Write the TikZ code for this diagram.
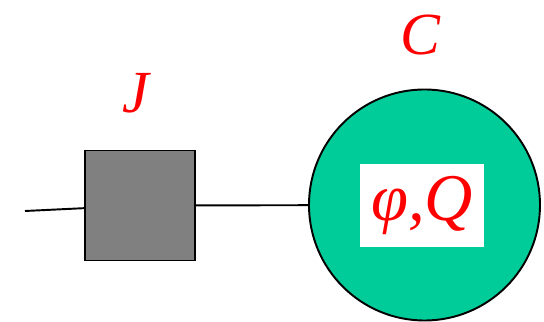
\documentclass[tikz,border=0pt]{standalone}
\usepackage{fontspec}
\setmainfont{Liberation Serif}
\definecolor{sea}{RGB}{0,204,153}

\begin{document}
\begin{tikzpicture}[
        block/.style={rectangle, draw, line width=1.1pt, fill=gray, minimum size=2.2cm, inner sep=0pt},
        ring/.style={circle, draw, line width=1.1pt, fill=sea, minimum size=4.62cm, inner sep=0pt},
        tag/.style={text=red, font=\fontsize{34}{40}\selectfont\itshape},
        link/.style={line width=1.1pt}
    ]

    \useasboundingbox (0,0) rectangle (10.88,6.44);

    % Define the junction and the body
    \node[block] (junc) at (2.8, 2.33) {};
    \node[ring] (body) at (8.49, 2.34) {};
    \node[rectangle, fill=white, minimum width=2.48cm, minimum height=1.66cm, inner sep=0pt, tag, font=\fontsize{38}{44}\selectfont\itshape] (prop) at (8.44, 2.33) {φ,Q};

    % Labels
    \node[tag] (jlab) at (2.72, 4.58) {J};
    \node[tag] (clab) at (8.4, 5.74) {C};

    % Draw connections
    \coordinate (start) at (0.5, 2.22);
    \draw[link] (start) -- (junc);
    \draw[link] (junc) -- (body);

    \end{tikzpicture}
\end{document}
